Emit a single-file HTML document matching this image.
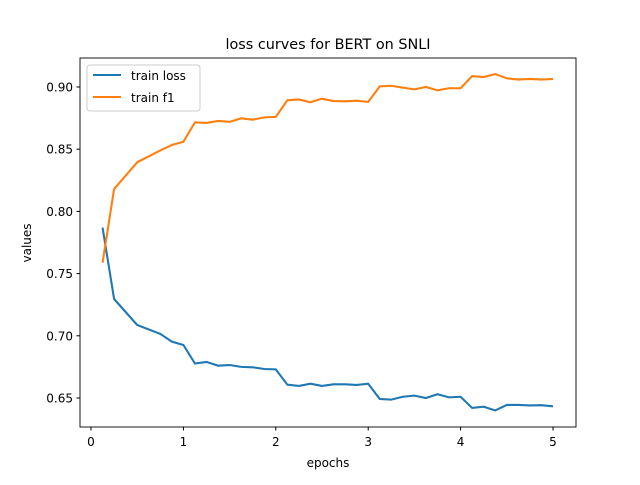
<!DOCTYPE html>
<html><head><meta charset="utf-8"><style>
body{margin:0;background:#fff}
svg text{font-family:"DejaVu Sans","Liberation Sans",sans-serif;fill:#000}
</style></head><body>
<svg id="chart" width="640" height="480" xmlns="http://www.w3.org/2000/svg">
<rect width="640" height="480" fill="#fff"/>
<text x="328" y="49" font-size="14.4" text-anchor="middle">loss curves for BERT on SNLI</text>
<g id="ticks"></g>
<g id="lines"></g>
<rect x="80" y="58" width="496" height="369" fill="none" stroke="#000" stroke-width="0.9"/>
<text x="328" y="467" font-size="12" text-anchor="middle">epochs</text>
<text x="31" y="243" font-size="12" text-anchor="middle" transform="rotate(-90 31 243)">values</text>
<g>
<rect x="87" y="65" width="113" height="46" rx="3" fill="#fff" stroke="#ccc"/>
<line x1="93" y1="75" x2="121" y2="75" stroke="#1f77b4" stroke-width="2"/>
<text x="131" y="80" font-size="12">train loss</text>
<line x1="93" y1="97" x2="121" y2="97" stroke="#ff7f0e" stroke-width="2"/>
<text x="131" y="102" font-size="12">train f1</text>
</g>
</svg>
<script>
const epochs=[0.125,0.25,0.5,0.75,0.875,1.0,1.125,1.25,1.375,1.5,1.625,1.75,1.875,2.0,2.125,2.25,2.375,2.5,2.625,2.75,2.875,3.0,3.125,3.25,3.375,3.5,3.625,3.75,3.875,4.0,4.125,4.25,4.375,4.5,4.625,4.75,4.875,5.0];
const trainLoss=[0.787,0.7296,0.7087,0.7015,0.6953,0.6926,0.6777,0.679,0.676,0.6765,0.675,0.6747,0.6733,0.673,0.6607,0.6597,0.6615,0.6597,0.661,0.661,0.6605,0.6615,0.6492,0.6487,0.651,0.6519,0.65,0.653,0.6505,0.651,0.642,0.643,0.640,0.6444,0.6444,0.644,0.6442,0.6433];
const trainF1=[0.7588,0.818,0.8395,0.849,0.8534,0.856,0.8716,0.8711,0.8727,0.872,0.8748,0.8737,0.8756,0.876,0.8893,0.890,0.8877,0.8906,0.8887,0.8885,0.889,0.888,0.9005,0.901,0.8995,0.8981,0.900,0.8973,0.899,0.899,0.9088,0.908,0.9104,0.907,0.906,0.9065,0.906,0.9065];
const xTicks=[0,1,2,3,4,5];
const yTicks=[0.65,0.70,0.75,0.80,0.85,0.90];
const xs=v=>91+v*92.4;
const ys=v=>87+(0.90-v)*1244;
const NS="http://www.w3.org/2000/svg";
const tg=document.getElementById('ticks');
xTicks.forEach(t=>{
  const l=document.createElementNS(NS,'line');
  
  
  l.setAttribute('x1',xs(t));l.setAttribute('x2',xs(t));l.setAttribute('y1',427);l.setAttribute('y2',430.5);l.setAttribute('stroke','#000');
  tg.appendChild(l);
  const tx=document.createElementNS(NS,'text');
  
  
  tx.setAttribute('x',xs(t));tx.setAttribute('y',446);tx.setAttribute('font-size','12');tx.setAttribute('text-anchor','middle');
  tx.textContent=t;tg.appendChild(tx);
});
yTicks.forEach(t=>{
  const l=document.createElementNS(NS,'line');
  
  
  l.setAttribute('x1',76.5);l.setAttribute('x2',80);l.setAttribute('y1',ys(t));l.setAttribute('y2',ys(t));l.setAttribute('stroke','#000');
  tg.appendChild(l);
  const tx=document.createElementNS(NS,'text');
  
  
  tx.setAttribute('x',73);tx.setAttribute('y',ys(t)+4.5);tx.setAttribute('font-size','12');tx.setAttribute('text-anchor','end');
  tx.textContent=t.toFixed(2);tg.appendChild(tx);
});
const lg=document.getElementById('lines');
function drawLine(vals,color,name){
  const p=document.createElementNS(NS,'polyline');
  
  
  p.setAttribute('points',epochs.map((e,i)=>xs(e)+','+ys(vals[i])).join(' '));
  p.setAttribute('fill','none');p.setAttribute('stroke',color);p.setAttribute('stroke-width','2.08');
  lg.appendChild(p);
}
drawLine(trainLoss,'#1f77b4','train-loss-line');
drawLine(trainF1,'#ff7f0e','train-f1-line');
</script>
</body></html>
